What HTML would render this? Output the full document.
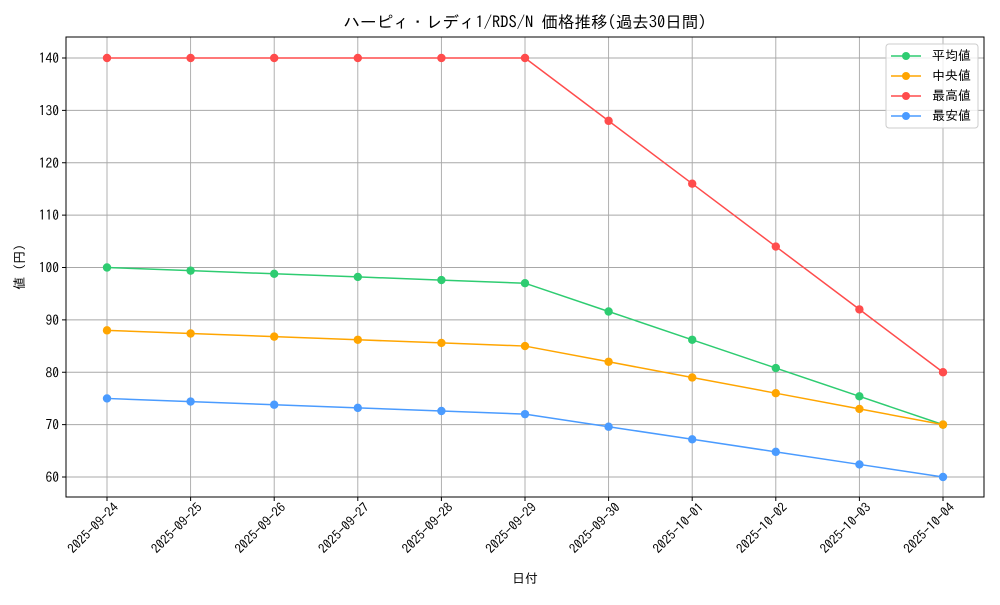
<!DOCTYPE html><html><head><meta charset="utf-8"><style>body{margin:0;background:#fff}svg{font-family:"IPAGothic","Liberation Sans","Noto Sans CJK JP",sans-serif}</style></head><body>
<svg id="s" width="1000" height="600" xmlns="http://www.w3.org/2000/svg">
<rect width="1000" height="600" fill="#fff"/>
<g id="g"></g>
<rect x="66" y="37" width="918" height="460" fill="none" stroke="#000" stroke-width="1"/>
<text x="525" y="28" font-size="16.5" text-anchor="middle">ハーピィ・レディ1/RDS/N 価格推移(過去30日間)</text>
<text x="525" y="583" font-size="13" text-anchor="middle">日付</text>
<text transform="translate(24,267) rotate(-90)" font-size="13" text-anchor="middle">値 (円)</text>
<g font-size="13">
<rect x="886" y="44" width="92" height="84" rx="3" fill="#fff" fill-opacity="0.8" stroke="#ccc"/>
<line x1="891" y1="56" x2="921" y2="56" stroke="#2ecc71" stroke-width="1.5"/><circle cx="906" cy="56" r="4" fill="#2ecc71"/><text x="932" y="60">平均値</text>
<line x1="891" y1="76" x2="921" y2="76" stroke="#ffa500" stroke-width="1.5"/><circle cx="906" cy="76" r="4" fill="#ffa500"/><text x="932" y="80"> 中央値</text>
<line x1="891" y1="96" x2="921" y2="96" stroke="#ff4c4c" stroke-width="1.5"/><circle cx="906" cy="96" r="4" fill="#ff4c4c"/><text x="932" y="100">最高値</text>
<line x1="891" y1="116" x2="921" y2="116" stroke="#4a9bff" stroke-width="1.5"/><circle cx="906" cy="116" r="4" fill="#4a9bff"/><text x="932" y="120">最安値</text>
</g>
</svg>
<script>
var g=document.getElementById('g'),h='';
var X=i=>107+83.6*i,Y=v=>477-(v-60)*5.2375;
for(var v=60;v<=140;v+=10){var y=Y(v);h+=`<line x1="66" x2="984" y1="${y}" y2="${y}" stroke="#a8a8a8" stroke-width="0.9"/><line x1="62" x2="66" y1="${y}" y2="${y}" stroke="#000"/><text x="59" y="${y+5}" font-size="13.5" text-anchor="end">${v}</text>`;}
var d=['2025-09-24','2025-09-25','2025-09-26','2025-09-27','2025-09-28','2025-09-29','2025-09-30','2025-10-01','2025-10-02','2025-10-03','2025-10-04'];
d.forEach((t,i)=>{var x=X(i);h+=`<line x1="${x}" x2="${x}" y1="37" y2="497" stroke="#a8a8a8" stroke-width="0.9"/><line x1="${x}" x2="${x}" y1="497" y2="501" stroke="#000"/><text transform="translate(${x+6},502) rotate(-45)" font-size="13" text-anchor="end" dominant-baseline="hanging">${t}</text>`;});
var S=[['#ff4c4c',[140,140,140,140,140,140,128,116,104,92,80]],['#2ecc71',[100,99.4,98.8,98.2,97.6,97,91.6,86.2,80.8,75.4,70]],['#ffa500',[88,87.4,86.8,86.2,85.6,85,82,79,76,73,70]],['#4a9bff',[75,74.4,73.8,73.2,72.6,72,69.6,67.2,64.8,62.4,60]]];
S.forEach(s=>{h+=`<polyline fill="none" stroke="${s[0]}" stroke-width="1.5" points="${s[1].map((v,i)=>X(i)+','+Y(v)).join(' ')}"/>`;s[1].forEach((v,i)=>h+=`<circle cx="${X(i)}" cy="${Y(v)}" r="4.2" fill="${s[0]}"/>`);});
g.innerHTML=h;
</script>
</body></html>
